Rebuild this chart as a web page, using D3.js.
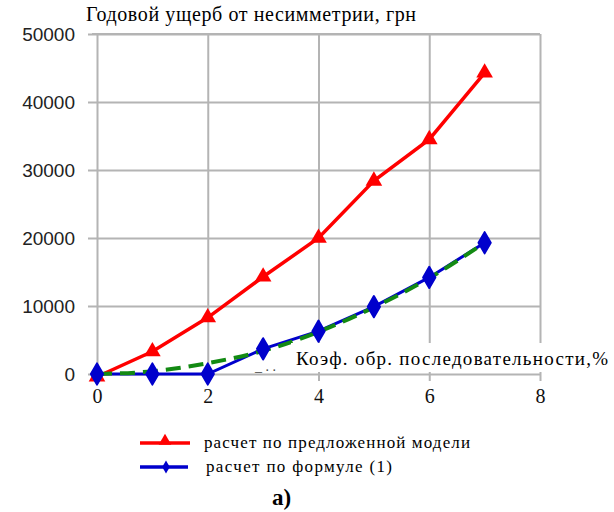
<!DOCTYPE html>
<html>
<head>
<meta charset="utf-8">
<script src="https://cdn.jsdelivr.net/npm/d3@7"></script>
<style>
  body { margin: 0; background: #ffffff; }
  svg { display: block; }
  .serif { font-family: "Liberation Serif", "Times New Roman", "DejaVu Serif", serif; }
  .sans { font-family: "Liberation Sans", Arial, sans-serif; }
</style>
</head>
<body>
<div id="chart"></div>
<script>

// data
var coefs = [0, 1, 2, 3, 4, 5, 6, 7];
var modelValues = [-400, 3300, 8300, 14300, 20000, 28400, 34500, 44300];
var formulaValues = [0, 0, 0, 3700, 6300, 9900, 14200, 19300];
var trendValues = [0, 400, 1600, 3400, 6200, 9800, 14100, 19300];
var yTicks = [0, 10000, 20000, 30000, 40000, 50000];
var xTicks = [0, 2, 4, 6, 8];
var seriesNames = ["расчет по предложенной модели", " расчет по формуле (1)"];

var gridColor = "#b4b4b4";

var svg = d3.select("#chart").append("svg")
  .attr("width", 614)
  .attr("height", 512);

var x = d3.scaleLinear().domain([0, 8]).range([97, 540]);
var y = d3.scaleLinear().domain([0, 50000]).range([374, 34]);


//--------------------------------------
// GRID + AXES
//--------------------------------------

var yAxis = svg.append("g")
  .attr("transform", "translate(88,0)")
  .call(d3.axisLeft(y).tickValues(yTicks).tickFormat(d3.format("d"))
    .tickSizeInner(-(540 - 88)).tickSizeOuter(0).tickPadding(13));

yAxis.attr("font-family", null).attr("font-size", null);
yAxis.select(".domain").remove();
yAxis.selectAll(".tick line")
  .attr("stroke", gridColor)
  .attr("stroke-width", 2);
yAxis.selectAll(".tick text")
  .attr("class", "sans")
  .style("font-size", "19px")
  .attr("fill", "#222");

var xAxis = svg.append("g")
  .attr("transform", "translate(0,381)")
  .call(d3.axisBottom(x).tickValues(xTicks).tickSizeInner(-(381 - 34)).tickSizeOuter(0).tickPadding(8));

xAxis.attr("font-family", null).attr("font-size", null);
xAxis.select(".domain").remove();
xAxis.selectAll(".tick line")
  .attr("stroke", gridColor)
  .attr("stroke-width", 2);
xAxis.selectAll(".tick text")
  .attr("class", "serif")
  .style("font-size", "20px")
  .attr("fill", "#111");

// top line of the frame starts a bit left of the axis
svg.append("line")
  .attr("x1", 92).attr("x2", 540)
  .attr("y1", y(50000)).attr("y2", y(50000))
  .attr("stroke", gridColor)
  .attr("stroke-width", 2);


//--------------------------------------
// TITLES
//--------------------------------------

svg.append("text")
  .attr("class", "serif")
  .attr("x", 86)
  .attr("y", 21)
  .style("font-size", "20px")
  .attr("textLength", 330)
  .attr("fill", "#000")
  .text("Годовой ущерб от несимметрии, грн");


//--------------------------------------
// SERIES
//--------------------------------------

var line = d3.line()
  .x(function (d, i) { return x(coefs[i]); })
  .y(function (d) { return y(d); });

var smooth = d3.line()
  .curve(d3.curveMonotoneX)
  .x(function (d, i) { return x(coefs[i]); })
  .y(function (d) { return y(d); });

svg.append("path")
  .datum(modelValues)
  .attr("d", line)
  .attr("fill", "none")
  .attr("stroke", "#ff0000")
  .attr("stroke-width", 3.5);

svg.append("path")
  .datum(formulaValues)
  .attr("d", line)
  .attr("fill", "none")
  .attr("stroke", "#0000cc")
  .attr("stroke-width", 3);

svg.append("path")
  .datum(trendValues)
  .attr("d", smooth)
  .attr("fill", "none")
  .attr("stroke", "#138a13")
  .attr("stroke-width", 4)
  .attr("stroke-dasharray", "15,8");

var tri = d3.symbol().type(d3.symbolTriangle).size(120);
var dia = d3.symbol().type(d3.symbolDiamond).size(130);

svg.append("g").selectAll("path")
  .data(modelValues)
  .join("path")
  .attr("d", tri)
  .attr("transform", function (d, i) { return "translate(" + x(coefs[i]) + "," + y(d) + ")"; })
  .attr("fill", "#ff0000");

svg.append("g").selectAll("path")
  .data(formulaValues)
  .join("path")
  .attr("d", dia)
  .attr("transform", function (d, i) { return "translate(" + x(coefs[i]) + "," + y(d) + ")"; })
  .attr("fill", "#0000cc")
  .attr("stroke", "#0000cc")
  .attr("stroke-width", 2)
  .attr("stroke-linejoin", "round");


//--------------------------------------
// X AXIS LABEL (sits over the plot)
//--------------------------------------

svg.append("rect")
  .attr("x", 291)
  .attr("y", 343)
  .attr("width", 318)
  .attr("height", 29)
  .attr("fill", "#ffffff");

svg.append("text")
  .attr("class", "serif")
  .attr("x", 296)
  .attr("y", 365)
  .style("font-size", "19px")
  .attr("textLength", 312)
  .attr("fill", "#000")
  .text("Коэф. обр. последовательности,%");

svg.append("text")
  .attr("class", "serif")
  .attr("x", 255)
  .attr("y", 371)
  .style("font-size", "14px")
  .attr("fill", "#444")
  .text("_  .  .");


//--------------------------------------
// LEGEND
//--------------------------------------

var legend = svg.append("g");

legend.append("line")
  .attr("x1", 140).attr("x2", 190)
  .attr("y1", 443).attr("y2", 443)
  .attr("stroke", "#ff0000").attr("stroke-width", 3.5);
legend.append("path")
  .attr("d", d3.symbol().type(d3.symbolTriangle).size(70))
  .attr("transform", "translate(165,441)")
  .attr("fill", "#ff0000");
legend.append("text")
  .attr("class", "serif")
  .attr("x", 204).attr("y", 448)
  .style("font-size", "17px")
  .attr("textLength", 266)
  .text(seriesNames[0]);

legend.append("line")
  .attr("x1", 140).attr("x2", 188)
  .attr("y1", 467).attr("y2", 467)
  .attr("stroke", "#0000cc").attr("stroke-width", 3.5);
legend.append("path")
  .attr("d", d3.symbol().type(d3.symbolDiamond).size(50))
  .attr("transform", "translate(166,467)")
  .attr("fill", "#0000cc");
legend.append("text")
  .attr("class", "serif")
  .attr("x", 206).attr("y", 472)
  .style("font-size", "17px")
  .attr("textLength", 186)
  .text(seriesNames[1]);

svg.append("text")
  .attr("class", "serif")
  .attr("x", 272).attr("y", 505)
  .style("font-size", "23px")
  .style("font-weight", "bold")
  .text("а)");

</script>
</body>
</html>
